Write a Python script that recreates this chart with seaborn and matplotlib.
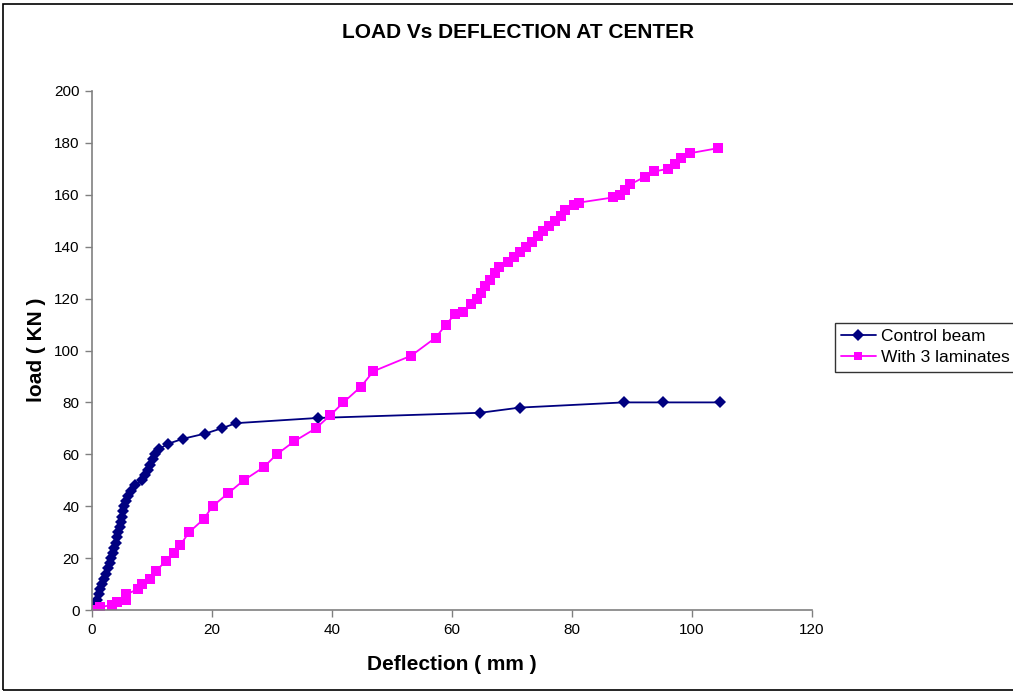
import pandas as pd
import matplotlib.pyplot as plt
import seaborn as sns
from matplotlib.patches import Rectangle

# Données
control_defl = [0, 0.4, 0.8, 1.1, 1.4, 1.7, 2.0, 2.4, 2.7, 3.0, 3.2, 3.5, 3.7, 4.0, 4.2, 4.4,
                4.6, 4.8, 5.0, 5.2, 5.4, 5.7, 6.0, 6.5, 7.2, 8.4, 8.9, 9.3, 9.7, 10.1, 10.5,
                11.2, 12.6, 15.2, 18.9, 21.6, 24.0, 37.6, 64.7, 71.3, 88.6, 95.1, 104.7]
control_load = [0, 2, 4, 6, 8, 10, 12, 14, 16, 18, 20, 22, 24, 26, 28, 30,
                32, 34, 36, 38, 40, 42, 44, 46, 48, 50, 52, 54, 56, 58, 60,
                62, 64, 66, 68, 70, 72, 74, 76, 78, 80, 80, 80]

lam_defl = [0, 1.3, 3.3, 4.1, 5.7, 5.7, 7.6, 8.4, 9.6, 10.6, 12.4, 13.7, 14.7, 16.2, 18.6,
            20.1, 22.7, 25.3, 28.6, 30.8, 33.7, 37.3, 39.7, 41.9, 44.8, 46.9, 53.2, 57.3,
            59.0, 60.5, 61.9, 63.2, 64.1, 64.8, 65.5, 66.3, 67.2, 67.9, 69.3, 70.3, 71.3,
            72.4, 73.4, 74.4, 75.2, 76.1, 77.2, 78.2, 78.9, 80.4, 81.2, 86.9, 88.0, 88.9,
            89.7, 92.2, 93.7, 96.0, 97.2, 98.2, 99.6, 104.4]
lam_load = [0, 1, 2, 3, 4, 6, 8, 10, 12, 15, 19, 22, 25, 30, 35,
            40, 45, 50, 55, 60, 65, 70, 75, 80, 86, 92, 98, 105,
            110, 114, 115, 118, 120, 122, 125, 127, 130, 132, 134, 136, 138,
            140, 142, 144, 146, 148, 150, 152, 154, 156, 157, 159, 160, 162,
            164, 167, 169, 170, 172, 174, 176, 178]

series_names = ["Control beam", "With 3 laminates"]
x_ticks = [0, 20, 40, 60, 80, 100, 120]
y_ticks = [0, 20, 40, 60, 80, 100, 120, 140, 160, 180, 200]

df = pd.concat([
    pd.DataFrame({"defl": control_defl, "load": control_load, "serie": series_names[0]}),
    pd.DataFrame({"defl": lam_defl, "load": lam_load, "serie": series_names[1]}),
])

sns.set_style("white")
plt.rcParams['font.family'] = ['Liberation Sans', 'DejaVu Sans']
plt.rcParams['text.color'] = 'black'
plt.rcParams['xtick.color'] = 'black'
plt.rcParams['ytick.color'] = 'black'

fig = plt.figure(figsize=(10.13, 6.94), dpi=100)
ax = fig.add_axes([92 / 1013, 1 - 610 / 694, 720 / 1013, 519 / 694])

sns.lineplot(data=df, x="defl", y="load", hue="serie", style="serie",
             palette={series_names[0]: "#000080", series_names[1]: "#FF00FF"},
             markers={series_names[0]: "D", series_names[1]: "s"},
             dashes=False, estimator=None, sort=False, ax=ax,
             linewidth=1.3, markersize=6.5, markeredgewidth=0, legend=False)

ax.set_xlim(0, 120)
ax.set_ylim(0, 200)
ax.set_xticks(x_ticks)
ax.set_yticks(y_ticks)
ax.tick_params(axis="both", direction="out", length=5, width=1, color="#808080",
               labelcolor="black", labelsize=11, pad=4, bottom=True, left=True)
for side in ["top", "right"]:
    ax.spines[side].set_visible(False)
for side in ["left", "bottom"]:
    ax.spines[side].set_color("#808080")
    ax.spines[side].set_linewidth(1.2)
ax.set_xlabel("")
ax.set_ylabel("")
ax.grid(False)

fig.text(518 / 1013, 1 - 33 / 694, "LOAD Vs DEFLECTION AT CENTER", ha="center", va="center",
         fontsize=15, fontweight="bold", color="black")
fig.text(452 / 1013, 1 - 664 / 694, "Deflection ( mm )", ha="center", va="center",
         fontsize=15, fontweight="bold", color="black")
fig.text(36 / 1013, 1 - 350 / 694, "load ( KN )", ha="center", va="center",
         fontsize=15, fontweight="bold", rotation=90, color="black")

# Légende
handles = [plt.Line2D([], [], color="#000080", marker="D", markersize=6, linewidth=1.3,
                      markeredgewidth=0),
           plt.Line2D([], [], color="#FF00FF", marker="s", markersize=6, linewidth=1.3,
                      markeredgewidth=0)]
leg = fig.legend(handles, series_names, loc="upper left",
                 bbox_to_anchor=(835 / 1013, 1 - 323 / 694), fontsize=12.5,
                 frameon=True, fancybox=False, edgecolor="black", handlelength=2.0,
                 handletextpad=0.3, borderpad=0.35, labelspacing=0.35, borderaxespad=0)
leg.get_frame().set_linewidth(1)

# Cadre du graphique
fig.patches.append(Rectangle((3 / 1013, 4 / 694), 1.2, 1 - 8 / 694, transform=fig.transFigure,
                             fill=False, edgecolor="black", linewidth=1.2))

plt.savefig("out.png", dpi=100)
